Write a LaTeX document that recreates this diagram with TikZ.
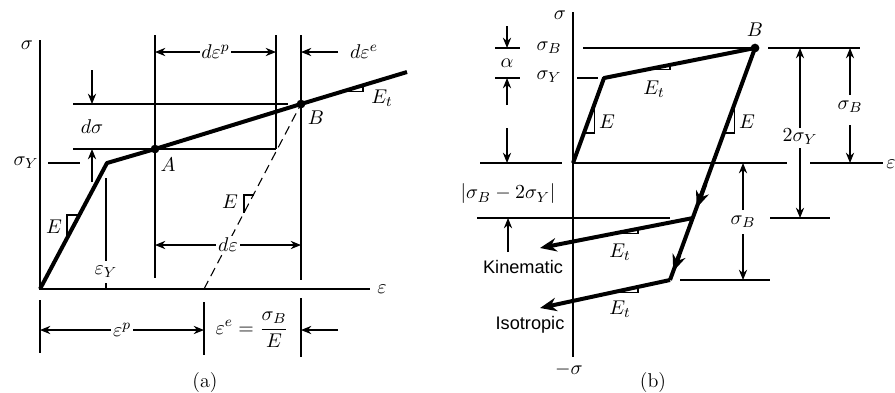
\documentclass[tikz,border=0pt]{standalone}
\usepackage{amsmath}
\usepackage{fontspec}
\newfontfamily\labelfont{Liberation Sans}
\usetikzlibrary{arrows.meta, calc}
\tikzset{
	thinline/.style ={line width=0.6pt},
	curve/.style    ={line width=2.2pt, line join=round},
	dimarrow/.style ={line width=0.6pt, -{Stealth[length=2mm, width=1.6mm]}},
	dimboth/.style  ={line width=0.6pt, {Stealth[length=2mm, width=1.6mm]}-{Stealth[length=2mm, width=1.6mm]}},
	flow/.style     ={line width=2.2pt, -{Stealth[length=3.2mm, width=2.6mm]}},
	gap/.style      ={fill=white, inner sep=1pt},
	hardening/.style={font=\labelfont\fontsize{10}{12}\selectfont},
}

\begin{document}
\begin{tikzpicture}[x=0.55pt, y=-0.55pt, font=\fontsize{11}{13}\selectfont]
	\useasboundingbox (0,0) rectangle (895,392);
	% (a) bilinear hardening, plastic and elastic strain increments
	\coordinate (O) at (40,289);
	\coordinate (Y) at (107,163);
	\coordinate (A) at (155,149);
	\coordinate (B) at (301,104);
	\coordinate (T) at (407,72);
	\coordinate (C) at (204,289);
	\draw[thinline] (40,40) -- (O) -- (370,289);
	\node at (27,45) {$\sigma$};
	\node at (382,289) {$\varepsilon$};
	\draw[thinline] (155,35) -- (155,278);
	\draw[thinline] (276,35) -- (276,149);
	\draw[thinline] (301,35) -- (301,280);
	\draw[thinline] (73,104) -- (288,104);
	\draw[thinline] (73,149) -- (276,149);
	\draw[thinline] (48,163) -- (80,163);
	\node at (26,163) {$\sigma_Y$};
	\draw[dimarrow] (92,70) -- (92,104);
	\draw[dimarrow] (92,182) -- (92,149);
	\node at (92,127) {$d\sigma$};
	\draw[thinline] (106,178) -- (106,261);
	\draw[thinline] (106,283) -- (106,289);
	\node at (106,272) {$\varepsilon_Y$};
	\draw[thinline, dashed, dash pattern=on 5pt off 3pt] (C) -- (B);
	\draw[curve] (O) -- (Y) -- (A) -- (B) -- (T);
	\fill (A) circle[radius=2.4pt];
	\fill (B) circle[radius=2.4pt];
	\node at (168,165) {$A$};
	\node at (316,118) {$B$};
	\draw[thinline] (67,238) -- (67,215) -- (79,215);
	\node at (54,227) {$E$};
	\draw[thinline] (244,213) -- (244,195) -- (254,195);
	\node at (230,202) {$E$};
	\draw[thinline] (343,91.2) -- (363,91.2) -- (363,85.1);
	\node at (382,98) {$E_t$};
	\draw[dimboth] (155,52) -- (276,52) node[midway, gap] {$d\varepsilon^p$};
	\draw[dimarrow] (338,52) -- (301,52);
	\node at (364,52) {$d\varepsilon^e$};
	\draw[dimboth] (155,245) -- (301,245) node[pos=0.5, gap] {$d\varepsilon$};
	\draw[thinline] (40,300) -- (40,353);
	\draw[thinline] (204,302) -- (204,355);
	\draw[thinline] (301,298) -- (301,357);
	\draw[dimboth] (40,330) -- (204,330) node[midway, gap] {$\varepsilon^p$};
	\node at (252,330) {$\varepsilon^e = \dfrac{\sigma_B}{E}$};
	\draw[dimarrow] (338,330) -- (301,330);
	\node at (205,382) {(a)};

	% (b) reversed loading, kinematic against isotropic hardening
	\coordinate (O2) at (573,163);
	\coordinate (Y2) at (604,78);
	\coordinate (B2) at (755,48);
	\coordinate (K) at (693,218);
	\coordinate (I) at (670,280);
	\coordinate (Kend) at (540,248);
	\coordinate (Iend) at (540,308);
	\draw[thinline] (573,12) -- (573,357);
	\draw[thinline] (O2) -- (787,163);
	\draw[thinline] (810,163) -- (883,163);
	\draw[thinline] (480,163) -- (562,163);
	\node at (560,15) {$\sigma$};
	\node at (569,370) {$-\sigma$};
	\node[anchor=west, inner sep=0pt] at (886,164) {$\varepsilon$};
	\draw[thinline] (583,48) -- (B2);
	\draw[thinline] (577,78) -- (598,78);
	\node at (549,48) {$\sigma_B$};
	\node at (549,77) {$\sigma_Y$};
	\draw[thinline] (495,48) -- (520,48);
	\draw[thinline] (495,78) -- (520,78);
	\draw[dimarrow] (507,26) -- (507,48);
	\draw[dimarrow] (507,105) -- (507,78);
	\node at (507,63) {$\alpha$};
	\draw[dimarrow] (507,128) -- (507,163);
	\node at (508,194) {$|\sigma_B - 2\sigma_Y|$};
	\draw[thinline] (477,218) -- (670,218);
	\draw[dimarrow] (508,252) -- (508,218);
	\node[hardening] at (523,267) {Kinematic};
	\node[hardening] at (530,325) {Isotropic};
	\draw[curve] (O2) -- (Y2) -- (B2) -- (I);
	\draw[flow] ($(B2)!0.8!(K)$) -- ($(B2)!0.94!(K)$);
	\draw[flow] ($(K)!0.6!(I)$) -- ($(K)!0.86!(I)$);
	\draw[flow] (K) -- (Kend);
	\draw[flow] (I) -- (Iend);
	\fill (B2) circle[radius=2.4pt];
	\node at (755,30) {$B$};
	\draw[thinline] (583.9,133) -- (594.2,133) -- (594.2,105);
	\node at (607,122) {$E$};
	\draw[thinline] (723.9,133) -- (734.1,133) -- (734.1,105);
	\node at (747,122) {$E$};
	\draw[thinline] (647,69.5) -- (670,69.5) -- (670,64.9);
	\node at (654,89) {$E_t$};
	\draw[thinline] (613,233.7) -- (638,233.7) -- (638,228.8);
	\node at (620,252) {$E_t$};
	\draw[thinline] (613,292.3) -- (638,292.3) -- (638,286.9);
	\node at (620,309) {$E_t$};
	\draw[thinline] (768,48) -- (860,48);
	\draw[dimarrow] (800,128) -- (800,48);
	\node at (800,137) {$2\sigma_Y$};
	\draw[dimarrow] (800,148) -- (800,218);
	\draw[thinline] (770,218) -- (830,218);
	\draw[dimarrow] (850,95) -- (850,48);
	\node at (850,107) {$\sigma_B$};
	\draw[dimarrow] (850,125) -- (850,163);
	\draw[dimarrow] (743,210) -- (743,163);
	\node at (743,222) {$\sigma_B$};
	\draw[dimarrow] (743,234) -- (743,280);
	\draw[thinline] (680,280) -- (770,280);
	\node at (653,382) {(b)};
\end{tikzpicture}
\end{document}
